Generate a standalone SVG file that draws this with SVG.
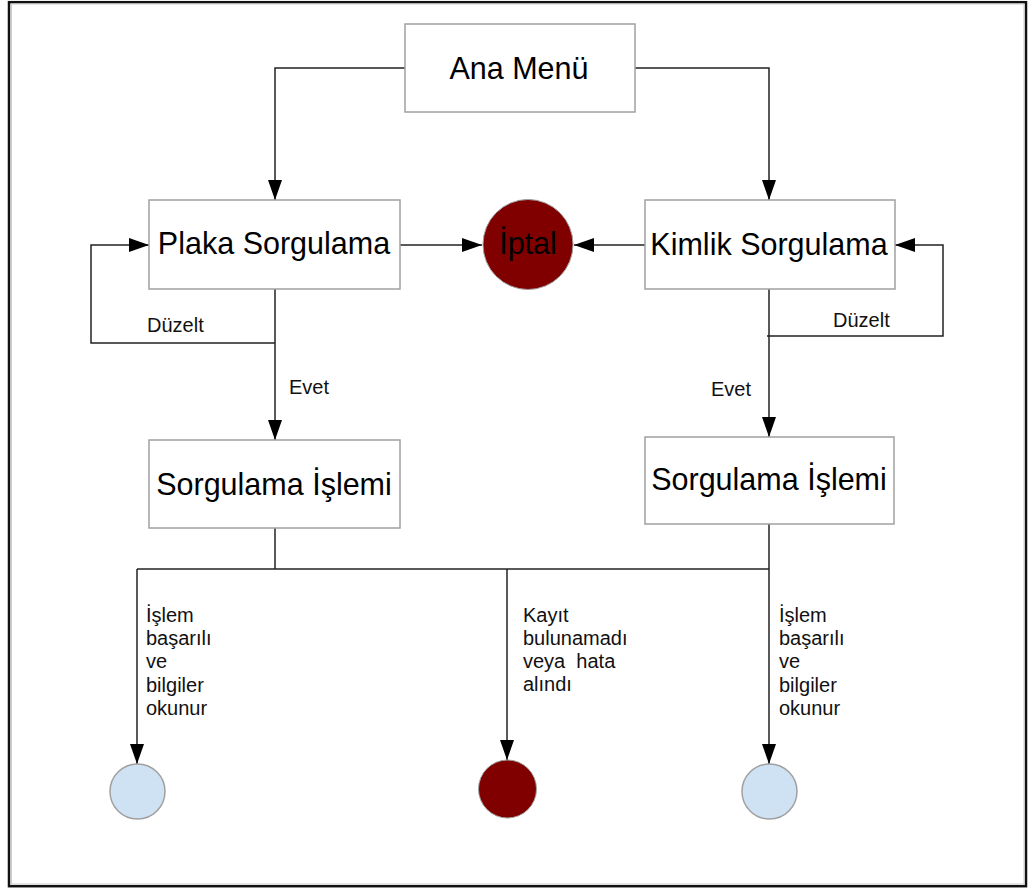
<svg xmlns="http://www.w3.org/2000/svg" width="1028" height="888" viewBox="0 0 1028 888">
<style>
.box{fill:#ffffff;stroke:#a0a0a0;stroke-width:1.5}
.big{font-family:"Liberation Sans",Arial,sans-serif;font-size:30.5px;fill:#000;text-anchor:middle}
.lbl{font-family:"Liberation Sans",Arial,sans-serif;font-size:20px;fill:#111}
.con{fill:none;stroke:#222;stroke-width:1.5}
.red{fill:#800000;stroke:#a0a0a0;stroke-width:1}
.blue{fill:#cfe2f3;stroke:#a0a0a0;stroke-width:1.5}
</style>
<defs>
<marker id="arr" markerUnits="userSpaceOnUse" markerWidth="21" markerHeight="14" refX="20" refY="7" orient="auto">
<path d="M0,0 L20,7 L0,14 z" fill="#000"/>
</marker>
</defs>
<rect x="0" y="0" width="1028" height="888" fill="#ffffff"/>
<rect x="9" y="2.2" width="1017" height="884" fill="none" stroke="#111" stroke-width="2.5"/>
<rect x="11.5" y="4" width="1012.5" height="880" fill="none" stroke="#cccccc" stroke-width="1"/>

<g id="connectors">
<path class="con" d="M405,68 H275 V200" marker-end="url(#arr)"/>
<path class="con" d="M635,68 H769 V200" marker-end="url(#arr)"/>
<path class="con" d="M400,245 H482" marker-end="url(#arr)"/>
<path class="con" d="M645,245 H574" marker-end="url(#arr)"/>
<path class="con" d="M275,343 H91 V245 H149" marker-end="url(#arr)"/>
<path class="con" d="M275,289 V440" marker-end="url(#arr)"/>
<path class="con" d="M767,336 H943 V245 H895" marker-end="url(#arr)"/>
<path class="con" d="M769,289 V437" marker-end="url(#arr)"/>
<path class="con" d="M275,528 V569"/>
<path class="con" d="M137,569 H769" stroke="#444"/>
<path class="con" d="M137,569 V764" marker-end="url(#arr)"/>
<path class="con" d="M507,569 V760" marker-end="url(#arr)"/>
<path class="con" d="M769,524 V764" marker-end="url(#arr)"/>
<text class="lbl" x="147" y="332">Düzelt</text>
<text class="lbl" x="289" y="394">Evet</text>
<text class="lbl" x="833" y="327">Düzelt</text>
<text class="lbl" x="711" y="396">Evet</text>
<text class="lbl" x="146" y="622">İşlem</text>
<text class="lbl" x="146" y="645">başarılı</text>
<text class="lbl" x="146" y="668">ve</text>
<text class="lbl" x="146" y="691.5">bilgiler</text>
<text class="lbl" x="146" y="715">okunur</text>
<text class="lbl" x="523" y="622">Kayıt</text>
<text class="lbl" x="523" y="645">bulunamadı</text>
<text class="lbl" x="523" y="668" xml:space="preserve">veya  hata</text>
<text class="lbl" x="523" y="691">alındı</text>
<text class="lbl" x="779" y="622">İşlem</text>
<text class="lbl" x="779" y="645">başarılı</text>
<text class="lbl" x="779" y="668">ve</text>
<text class="lbl" x="779" y="691.5">bilgiler</text>
<text class="lbl" x="779" y="715">okunur</text>
</g>

<g id="ana-menu">
<rect class="box" x="405" y="24" width="230" height="88"/>
<text class="big" x="519" y="79">Ana Menü</text>
</g>
<g id="plaka-sorgulama">
<rect class="box" x="149" y="200" width="251" height="89"/>
<text class="big" x="274" y="254">Plaka Sorgulama</text>
</g>
<g id="kimlik-sorgulama">
<rect class="box" x="645" y="200" width="250" height="89"/>
<text class="big" x="769" y="255">Kimlik Sorgulama</text>
</g>
<g id="iptal">
<circle class="red" cx="528" cy="244.5" r="45"/>
<text class="big" x="528" y="254">İptal</text>
</g>
<g id="sorgulama-islemi-1">
<rect class="box" x="149" y="440" width="251" height="88"/>
<text class="big" x="274" y="495">Sorgulama İşlemi</text>
</g>
<g id="sorgulama-islemi-2">
<rect class="box" x="645" y="437" width="249" height="87"/>
<text class="big" x="769" y="490">Sorgulama İşlemi</text>
</g>
<g id="end-success-1">
<circle class="blue" cx="137.5" cy="791.5" r="27.5"/>
</g>
<g id="end-error">
<circle class="red" cx="507.5" cy="789" r="29"/>
</g>
<g id="end-success-2">
<circle class="blue" cx="769.5" cy="791.5" r="27.5"/>
</g>
</svg>
